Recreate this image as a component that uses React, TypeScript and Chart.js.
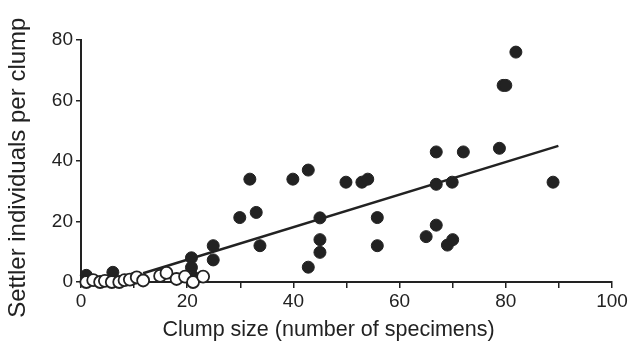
import React, { useEffect, useRef } from "react";
import { Chart, registerables } from "chart.js";

Chart.register(...registerables);

// Filled circles (clump size, settlers)
const filledX = [1, 6, 10, 20.8, 20.8, 21, 24.9, 24.9, 29.9, 31.8, 33, 33.7, 39.9, 42.8, 42.8, 45, 45, 45, 49.9, 52.9, 54, 55.8, 55.8, 65, 66.9, 66.9, 66.9, 69, 70, 69.9, 72, 78.8, 79.5, 80, 81.9, 88.9];
const filledY = [2.2, 3.2, 1.2, 8, 4.8, 2, 12, 7.3, 21.3, 34, 23, 12, 34, 37, 4.9, 21.2, 14, 9.8, 33, 33, 34, 21.3, 12, 15, 43, 32.3, 18.8, 12.2, 14, 33, 43, 44.2, 65, 65, 76, 33];

// Open circles
const openX = [1, 2.3, 3.6, 4.5, 5.8, 7.2, 8.2, 9.2, 10.5, 11.7, 14.9, 16.1, 18, 19.6, 21.1, 23];
const openY = [0, 0.6, 0, 0.4, 0, 0, 0.6, 0.8, 1.5, 0.5, 2, 3, 1, 1.8, 0, 1.8];

// Regression line endpoints
const fitX = [11.7, 89.9];
const fitY = [2.9, 45];

const xTicks = [0, 20, 40, 60, 80, 100];
const yTicks = [0, 20, 40, 60, 80];

const ink = "#222222";
const font = "'Liberation Sans', Arial, Helvetica, sans-serif";

export default function App() {
  const ref = useRef<HTMLCanvasElement | null>(null);
  useEffect(() => {
    if (!ref.current) return;
    const toPts = (xs: number[], ys: number[]) => xs.map((x, i) => ({ x, y: ys[i] }));
    const chart = new Chart(ref.current, {
      type: "scatter",
      data: {
        datasets: [
          {
            label: "open",
            data: toPts(openX, openY),
            backgroundColor: "#ffffff",
            borderColor: ink,
            borderWidth: 1.8,
            pointRadius: 6,
            order: 0,
          },
          {
            label: "filled",
            data: toPts(filledX, filledY),
            backgroundColor: ink,
            borderColor: ink,
            borderWidth: 1,
            pointRadius: 6,
            order: 1,
          },
          {
            type: "line",
            label: "fit",
            data: toPts(fitX, fitY),
            borderColor: ink,
            borderWidth: 2.5,
            pointRadius: 0,
            showLine: true,
            fill: false,
            order: 2,
          } as any,
        ],
      },
      options: {
        responsive: false,
        animation: false,
        devicePixelRatio: 1,
        clip: false as any,
        layout: { padding: { top: 40, right: 20, left: 0, bottom: 0 } },
        plugins: { legend: { display: false }, tooltip: { enabled: false } },
        scales: {
          x: {
            type: "linear",
            min: 0,
            max: 100,
            afterFit: (s: any) => {
              s.height = 72;
            },
            afterBuildTicks: (s: any) => {
              const t = [];
              for (let v = 0; v <= 100; v += 10) t.push({ value: v });
              s.ticks = t;
            },
            ticks: {
              autoSkip: false,
              maxRotation: 0,
              padding: 2,
              color: ink,
              font: { family: font, size: 19 },
              callback: (v: any) => (xTicks.includes(Number(v)) ? String(v) : ""),
            },
            grid: { drawOnChartArea: false, drawTicks: true, tickLength: 6, color: ink, lineWidth: 1.5 },
            border: { display: true, color: ink, width: 2 },
            title: {
              display: true,
              text: "Clump size (number of specimens)      ",
              color: ink,
              font: { family: font, size: 21.5 },
              padding: { top: 0, bottom: 11 },
            },
          },
          y: {
            type: "linear",
            min: 0,
            max: 80,
            afterFit: (s: any) => {
              s.width = 81;
            },
            afterBuildTicks: (s: any) => {
              s.ticks = yTicks.map((v) => ({ value: v }));
            },
            ticks: {
              padding: 3,
              color: ink,
              font: { family: font, size: 19 },
            },
            grid: { drawOnChartArea: false, drawTicks: true, tickLength: 5, color: ink, lineWidth: 1.5 },
            border: { display: true, color: ink, width: 2 },
            title: {
              display: true,
              text: "Settler individuals per clump  ",
              color: ink,
              font: { family: font, size: 24 },
              padding: { top: 4, bottom: 0 },
            },
          },
        },
      },
    });
    return () => chart.destroy();
  }, []);
  return (
    <div style={{ position: "absolute", left: 0, top: 0, width: 632, height: 354, background: "#fff" }}>
      <canvas ref={ref} width={632} height={354} />
    </div>
  );
}
